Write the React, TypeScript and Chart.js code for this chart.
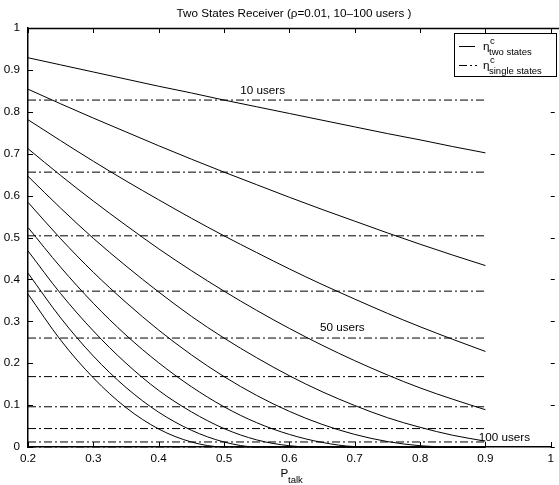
import React, { useEffect, useRef } from "react";
import { Chart, registerables } from "chart.js";

Chart.register(...registerables);

// ---- data ----
const pTalk = [0.2, 0.25, 0.3, 0.35, 0.4, 0.45, 0.5, 0.55, 0.6, 0.65, 0.7, 0.75, 0.8, 0.85, 0.9];

const users10 = [0.929, 0.912, 0.895, 0.878, 0.861, 0.845, 0.828, 0.812, 0.796, 0.78, 0.764, 0.748, 0.733, 0.717, 0.702];
const users20 = [0.854, 0.819, 0.785, 0.752, 0.719, 0.687, 0.656, 0.626, 0.596, 0.567, 0.539, 0.511, 0.484, 0.458, 0.433];
const users30 = [0.781, 0.731, 0.682, 0.635, 0.59, 0.546, 0.504, 0.464, 0.425, 0.388, 0.353, 0.319, 0.287, 0.257, 0.228];
const users40 = [0.712, 0.648, 0.587, 0.529, 0.473, 0.421, 0.372, 0.326, 0.283, 0.243, 0.206, 0.172, 0.141, 0.114, 0.089];
const users50 = [0.646, 0.57, 0.498, 0.432, 0.37, 0.312, 0.26, 0.213, 0.17, 0.132, 0.099, 0.07, 0.047, 0.028, 0.014];
const users60 = [0.584, 0.497, 0.417, 0.345, 0.279, 0.22, 0.168, 0.123, 0.085, 0.054, 0.03, 0.013, 0.003, 0, 0];
const users70 = [0.524, 0.429, 0.343, 0.267, 0.201, 0.144, 0.096, 0.058, 0.03, 0.011, 0.001, 0, 0, 0, 0];
const users80 = [0.468, 0.366, 0.277, 0.2, 0.135, 0.084, 0.044, 0.017, 0.003, 0, 0, 0, 0, 0, 0];
const users90 = [0.415, 0.308, 0.217, 0.142, 0.083, 0.04, 0.012, 0, 0, 0, 0, 0, 0, 0, 0];
const users100 = [0.365, 0.255, 0.165, 0.094, 0.043, 0.012, 0, 0, 0, 0, 0, 0, 0, 0, 0];

const twoStateSeries = [users10, users20, users30, users40, users50, users60, users70, users80, users90, users100];

// single-state efficiency for 10..100 users (horizontal dash-dot lines)
const singleStates = [0.828, 0.656, 0.504, 0.372, 0.26, 0.168, 0.096, 0.044, 0.012, 0.0];
const singleRange = [0.2, 0.9];

const xTicks = [0.2, 0.3, 0.4, 0.5, 0.6, 0.7, 0.8, 0.9, 1.0];
const xTickLabels = ["0.2", "0.3", "0.4", "0.5", "0.6", "0.7", "0.8", "0.9", "1"];
const yTicks = [0, 0.1, 0.2, 0.3, 0.4, 0.5, 0.6, 0.7, 0.8, 0.9, 1.0];
const yTickLabels = ["0", "0.1", "0.2", "0.3", "0.4", "0.5", "0.6", "0.7", "0.8", "0.9", "1"];

const titleText = "Two States Receiver (\u03c1=0.01, 10\u2013100 users )";
const curveLabels = ["10 users", "50 users", "100 users"];
const curveLabelX = [0.559, 0.681, 0.929];
const curveLabelY = [0.85, 0.284, 0.0215];

const FONT = "'Liberation Sans', Arial, Helvetica, sans-serif";
const FS = 11.7;
const DASHDOT = [8, 3, 2, 3];
const AXIS_W = 1.5;

const decorPlugin = {
  id: "decor",
  afterDraw(chart: any) {
    const { ctx, chartArea: a, scales } = chart;
    const xs = scales.x;
    const ys = scales.y;
    ctx.save();
    ctx.strokeStyle = "#000";
    ctx.fillStyle = "#000";
    const r = (v: number) => Math.round(v) + 0.5;

    // top border
    ctx.lineWidth = AXIS_W;
    ctx.beginPath();
    ctx.moveTo(a.left, r(a.top));
    ctx.lineTo(chart.width, r(a.top));
    ctx.stroke();

    // inward ticks
    ctx.lineWidth = 1;
    ctx.beginPath();
    xTicks.forEach((v) => {
      const px = r(xs.getPixelForValue(v));
      ctx.moveTo(px, a.bottom);
      ctx.lineTo(px, a.bottom - 5);
      ctx.moveTo(px, a.top);
      ctx.lineTo(px, a.top + 5);
    });
    yTicks.forEach((v) => {
      const py = r(ys.getPixelForValue(v));
      ctx.moveTo(a.left, py);
      ctx.lineTo(a.left + 5, py);
      ctx.moveTo(a.right, py);
      ctx.lineTo(a.right + 4, py);
    });
    ctx.stroke();

    // title
    ctx.font = `${FS}px ${FONT}`;
    ctx.textAlign = "center";
    ctx.textBaseline = "middle";
    ctx.fillText(titleText, 294, 14);

    // x axis title P_talk
    ctx.textAlign = "left";
    ctx.textBaseline = "alphabetic";
    ctx.font = `${FS}px ${FONT}`;
    ctx.fillText("P", 280.5, 477);
    ctx.font = `9.5px ${FONT}`;
    ctx.fillText("talk", 288, 483);

    // curve labels
    ctx.font = `${FS}px ${FONT}`;
    ctx.textAlign = "center";
    ctx.textBaseline = "middle";
    curveLabels.forEach((t, i) => {
      ctx.fillText(t, xs.getPixelForValue(curveLabelX[i]), ys.getPixelForValue(curveLabelY[i]));
    });

    // legend
    const bx = 454.5, by = 33.5, bw = 102, bh = 43;
    ctx.fillStyle = "#fff";
    ctx.fillRect(bx, by, bw, bh);
    ctx.strokeStyle = "#000";
    ctx.lineWidth = 1;
    ctx.strokeRect(bx, by, bw, bh);
    ctx.fillStyle = "#000";
    // row 1 solid
    ctx.beginPath();
    ctx.moveTo(459, 46.5);
    ctx.lineTo(475, 46.5);
    ctx.stroke();
    // row 2 dash-dot
    ctx.setLineDash(DASHDOT);
    ctx.beginPath();
    ctx.moveTo(459, 65.5);
    ctx.lineTo(477, 65.5);
    ctx.stroke();
    ctx.setLineDash([]);

    ctx.textAlign = "left";
    ctx.textBaseline = "alphabetic";
    const rows = [
      { y: 50, sub: "two states" },
      { y: 69, sub: "single states" },
    ];
    rows.forEach((row) => {
      ctx.font = `${FS}px ${FONT}`;
      ctx.fillText("\u03b7", 483, row.y);
      ctx.font = `9.5px ${FONT}`;
      ctx.fillText("c", 490, row.y - 6);
      ctx.fillText(row.sub, 489, row.y + 5);
    });

    ctx.restore();
  },
};

export default function App() {
  const ref = useRef<HTMLCanvasElement | null>(null);

  useEffect(() => {
    if (!ref.current) return;
    const curveSets = twoStateSeries.map((vals, i) => ({
      label: `two states ${(i + 1) * 10}`,
      data: vals.map((v, j) => ({ x: pTalk[j], y: v })),
      borderColor: "#000",
      borderWidth: 1,
      pointRadius: 0,
      fill: false,
      cubicInterpolationMode: "monotone" as const,
      clip: 3,
    }));
    const singleSets = singleStates.map((v, i) => ({
      label: `single states ${(i + 1) * 10}`,
      data: singleRange.map((x) => ({ x, y: v })),
      borderColor: "#000",
      borderWidth: 1,
      borderDash: DASHDOT,
      pointRadius: 0,
      fill: false,
      clip: 3,
    }));

    const chart = new Chart(ref.current, {
      type: "line",
      data: { datasets: [...curveSets, ...singleSets] as any },
      options: {
        responsive: false,
        animation: false,
        devicePixelRatio: 1,
        layout: { padding: { top: 28, right: 4, left: 0, bottom: 0 } },
        plugins: {
          legend: { display: false },
          tooltip: { enabled: false },
          title: { display: false },
        },
        elements: { point: { radius: 0 }, line: { tension: 0 } },
        scales: {
          x: {
            type: "linear",
            min: 0.2,
            max: 1,
            afterFit: (s: any) => {
              s.height = 38;
            },
            afterBuildTicks: (s: any) => {
              s.ticks = xTicks.map((v) => ({ value: v }));
            },
            ticks: {
              autoSkip: false,
              maxRotation: 0,
              padding: 5,
              color: "#000",
              font: { family: FONT, size: FS },
              callback: (_v: any, i: number) => xTickLabels[i],
            },
            grid: { drawOnChartArea: false, drawTicks: false },
            border: { display: true, color: "#000", width: AXIS_W },
          },
          y: {
            type: "linear",
            min: 0,
            max: 1,
            afterFit: (s: any) => {
              s.width = 28;
            },
            afterBuildTicks: (s: any) => {
              s.ticks = yTicks.map((v) => ({ value: v }));
            },
            ticks: {
              autoSkip: false,
              padding: 8,
              color: "#000",
              font: { family: FONT, size: FS },
              callback: (_v: any, i: number) => yTickLabels[i],
            },
            grid: { drawOnChartArea: false, drawTicks: false },
            border: { display: true, color: "#000", width: AXIS_W },
          },
        },
      },
      plugins: [decorPlugin],
    });
    return () => chart.destroy();
  }, []);

  return (
    <div style={{ position: "absolute", left: 0, top: 0, width: 559, height: 485, background: "#fff" }}>
      <canvas ref={ref} width={559} height={485} style={{ width: 559, height: 485, display: "block" }} />
    </div>
  );
}
